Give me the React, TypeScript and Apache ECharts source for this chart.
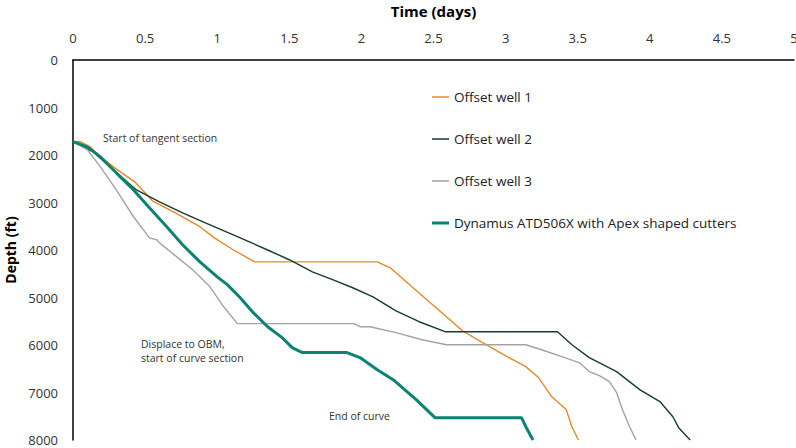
import React, { useEffect, useRef } from "react";
import * as echarts from "echarts";

const xTicks = [0, 0.5, 1, 1.5, 2, 2.5, 3, 3.5, 4, 4.5, 5];
const yTicks = [0, 1000, 2000, 3000, 4000, 5000, 6000, 7000, 8000];

const seriesNames = [
  "Offset well 1",
  "Offset well 2",
  "Offset well 3",
  "Dynamus ATD506X with Apex shaped cutters",
];

// [time (days), depth (ft)]
const offsetWell1: [number, number][] = [
  [0, 1720], [0.05, 1720], [0.12, 1830], [0.19, 2040], [0.29, 2270], [0.43, 2570],
  [0.55, 2965], [0.71, 3220], [0.88, 3510], [0.98, 3745], [1.11, 3995], [1.26, 4250],
  [2.11, 4250], [2.2, 4375], [2.35, 4775], [2.47, 5090], [2.59, 5405], [2.7, 5700],
  [2.84, 5950], [3.01, 6245], [3.14, 6455], [3.23, 6690], [3.32, 7090], [3.42, 7360],
  [3.46, 7720], [3.505, 8000],
];

const offsetWell2: [number, number][] = [
  [0, 1720], [0.14, 1935], [0.28, 2310], [0.44, 2735], [0.6, 2985], [0.76, 3220],
  [0.95, 3470], [1.16, 3745], [1.35, 4000], [1.5, 4205], [1.66, 4460], [1.8, 4625],
  [1.94, 4795], [2.08, 4985], [2.24, 5280], [2.4, 5510], [2.58, 5720], [3.36, 5720],
  [3.46, 5995], [3.58, 6265], [3.77, 6560], [3.93, 6940], [4.07, 7190], [4.16, 7510],
  [4.2, 7740], [4.28, 8000],
];

const offsetWell3: [number, number][] = [
  [0, 1720], [0.1, 1890], [0.19, 2250], [0.3, 2735], [0.42, 3300], [0.53, 3745],
  [0.58, 3785], [0.6, 3850], [0.72, 4145], [0.83, 4415], [0.95, 4775], [1.04, 5175],
  [1.14, 5550], [1.95, 5550], [1.99, 5615], [2.06, 5615], [2.24, 5740], [2.42, 5890],
  [2.59, 5995], [3.14, 5995], [3.25, 6100], [3.39, 6245], [3.51, 6370], [3.58, 6560],
  [3.65, 6645], [3.72, 6770], [3.77, 7005], [3.81, 7360], [3.86, 7720], [3.905, 8000],
];

const dynamus: [number, number][] = [
  [0, 1720], [0.1, 1830], [0.19, 2040], [0.3, 2375], [0.42, 2735], [0.53, 3110],
  [0.65, 3510], [0.76, 3890], [0.88, 4250], [1.0, 4565], [1.07, 4730], [1.16, 5005],
  [1.25, 5320], [1.35, 5615], [1.45, 5845], [1.52, 6055], [1.59, 6160], [1.9, 6160],
  [1.99, 6265], [2.11, 6520], [2.22, 6730], [2.38, 7150], [2.51, 7530], [3.11, 7530],
  [3.14, 7720], [3.19, 8000],
];

const annotations = [
  { text: "Start of tangent section", x: 103, y: 138 },
  { text: "Displace to OBM,", x: 141, y: 344 },
  { text: "start of curve section", x: 141, y: 358 },
  { text: "End of curve", x: 329, y: 416 },
];

const FONT = "'Open Sans', sans-serif";

// legend line icons: bar inside a 20x12 box (corner dots fix the bounding box)
const legendIcon = (t: number) =>
  `path://M0,0h0.01v0.01h-0.01z M19.99,11.99h0.01v0.01h-0.01z M3,${6 - t / 2}h17v${t}h-17z`;

export default function App() {
  const ref = useRef<HTMLDivElement>(null);
  useEffect(() => {
    document.body.style.margin = "0";
    const chart = echarts.init(ref.current!, null, { renderer: "svg" });
    const colors = ["#E38A2C", "#163D30", "#A3A3A3", "#0A8471"];
    const widths = [1.4, 1.4, 1.4, 3];
    const datas = [offsetWell1, offsetWell2, offsetWell3, dynamus];
    chart.setOption({
      animation: false,
      textStyle: { fontFamily: FONT },
      grid: { left: 73, top: 60, right: 2, bottom: 8, outerBoundsMode: "none", containLabel: false },
      legend: {
        orient: "vertical",
        left: 424,
        top: 85,
        itemGap: 28,
        itemWidth: 20,
        itemHeight: 12,
        data: seriesNames.map((n, i) => ({
          name: n,
          icon: legendIcon(i === 3 ? 3 : 1.6),
          itemStyle: { color: colors[i], borderWidth: 0 },
        })),
        textStyle: { fontFamily: FONT, fontSize: 13.5, color: "#222" },
      },
      xAxis: {
        type: "value",
        position: "top",
        min: 0,
        max: 5,
        interval: 0.5,
        name: "Time (days)",
        nameLocation: "middle",
        nameGap: 42,
        nameTextStyle: { fontFamily: FONT, fontSize: 15, fontWeight: "bold", color: "#000" },
        axisLine: { show: true, lineStyle: { color: "#000", width: 1.5 } },
        axisTick: { show: false },
        splitLine: { show: false },
        axisLabel: {
          margin: 16,
          fontSize: 13,
          color: "#333",
          formatter: (v: number) => (xTicks.includes(v) ? String(v) : ""),
        },
      },
      yAxis: {
        type: "value",
        inverse: true,
        min: 0,
        max: 8000,
        interval: 1000,
        name: "Depth (ft)",
        nameLocation: "middle",
        nameGap: 53,
        nameRotate: 90,
        nameTextStyle: { fontFamily: FONT, fontSize: 14, fontWeight: "bold", color: "#000" },
        axisLine: { show: true, lineStyle: { color: "#000", width: 1.5 } },
        axisTick: { show: false },
        splitLine: { show: false },
        axisLabel: {
          margin: 15,
          fontSize: 13,
          color: "#333",
          formatter: (v: number) => (yTicks.includes(v) ? String(v) : ""),
        },
      },
      series: datas.map((d, i) => ({
        name: seriesNames[i],
        type: "line",
        data: d,
        symbol: "none",
        showSymbol: false,
        clip: true,
        z: i === 3 ? 5 : 2,
        lineStyle: { color: colors[i], width: widths[i] },
        itemStyle: { color: colors[i] },
      })),
      graphic: annotations.map((a) => ({
        type: "text",
        left: a.x,
        top: a.y - 6,
        style: {
          text: a.text,
          fontFamily: FONT,
          fontSize: 10.5,
          lineHeight: 12,
          fill: "#333",
        },
      })),
    });
    return () => chart.dispose();
  }, []);
  return <div ref={ref} style={{ width: 796, height: 448 }} />;
}
